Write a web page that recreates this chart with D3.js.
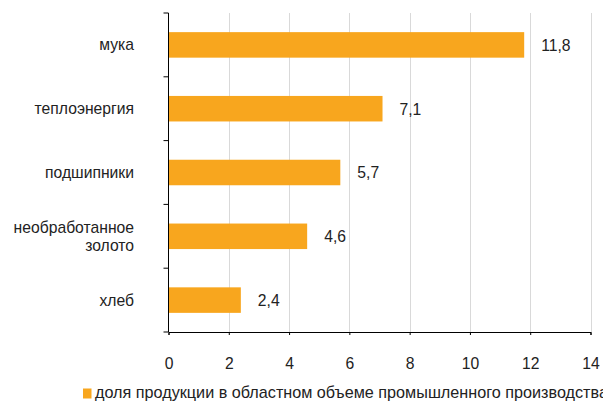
<!DOCTYPE html>
<html><head><meta charset="utf-8">
<script src="https://cdn.jsdelivr.net/npm/d3@7"></script>
<style>body{margin:0;background:#fff}svg{display:block;font-family:"Liberation Sans",Arial,sans-serif}</style>
</head><body><svg id="c" width="603" height="402"></svg>
<script>
const categories = [["мука"],["теплоэнергия"],["подшипники"],["необработанное","золото"],["хлеб"]];
const values = [11.8, 7.1, 5.7, 4.6, 2.4];
const valueLabels = ["11,8","7,1","5,7","4,6","2,4"];
const xTicks = [0,2,4,6,8,10,12,14];
const legendLabel = "доля продукции в областном объеме промышленного производства";

const svg = d3.select("#c");
const FS = 15.7;
const L = 168.5, R = 590.5, T = 13, B = 332;
const x = d3.scaleLinear().domain([0,14]).range([L,R]);
const y = d3.scaleBand().domain(d3.range(categories.length)).range([T,B]).paddingInner(0.6).paddingOuter(0.3);
const color = "#F8A61E";
const txt = "#222";

// grid
svg.append("g").selectAll("line").data(xTicks.slice(1)).join("line")
  .attr("x1",d=>Math.round(x(d))+0.5).attr("x2",d=>Math.round(x(d))+0.5).attr("y1",T).attr("y2",B)
  .attr("stroke","#d9d9d9").attr("stroke-width",1);

// bars
svg.append("g").selectAll("rect").data(values).join("rect")
  .attr("x",L).attr("y",(d,i)=>y(i)).attr("width",d=>x(d)-L).attr("height",y.bandwidth())
  .attr("fill",color);

// value labels
svg.append("g").selectAll("text").data(values).join("text")
  .attr("x",d=>x(d)+17).attr("y",(d,i)=>y(i)+y.bandwidth()/2).attr("dy","0.37em")
  .attr("font-size",FS).attr("fill",txt).text((d,i)=>valueLabels[i]);

// x axis
const xa = svg.append("g").attr("transform",`translate(0,${B})`)
  .call(d3.axisBottom(x).tickValues(xTicks).tickSize(3).tickPadding(23).tickFormat(d3.format("d")));
xa.select(".domain").attr("stroke","#000");
xa.selectAll(".tick line").attr("stroke","#000");
xa.selectAll("text").attr("font-size",FS).attr("fill",txt).attr("font-family","Liberation Sans, Arial, sans-serif");

// y axis line with band boundary ticks
const bandStep = (B-T)/categories.length;
svg.append("line").attr("x1",L).attr("x2",L).attr("y1",T).attr("y2",B).attr("stroke","#000");
svg.append("g").selectAll("line").data(d3.range(categories.length+1)).join("line")
  .attr("x1",L-5).attr("x2",L).attr("y1",i=>T+i*bandStep).attr("y2",i=>T+i*bandStep).attr("stroke","#000");

// category labels
const cl = svg.append("g").selectAll("text").data(categories).join("text")
  .attr("x",134).attr("text-anchor","end").attr("font-size",FS).attr("fill",txt)
  .attr("y",(d,i)=>y(i)+y.bandwidth()/2);
cl.each(function(d){
  const t = d3.select(this);
  const n = d.length, lh = 17.5;
  d.forEach((s,k)=>{
    t.append("tspan").attr("x",134).attr("dy", k===0 ? (0.35*FS - (n-1)*lh/2) : lh).text(s);
  });
});

// legend
svg.append("rect").attr("x",83).attr("y",388.5).attr("width",8.5).attr("height",10).attr("fill",color);
svg.append("text").attr("x",95).attr("y",397.5).attr("font-size",16.2).attr("fill",txt).text(legendLabel);
</script></body></html>
